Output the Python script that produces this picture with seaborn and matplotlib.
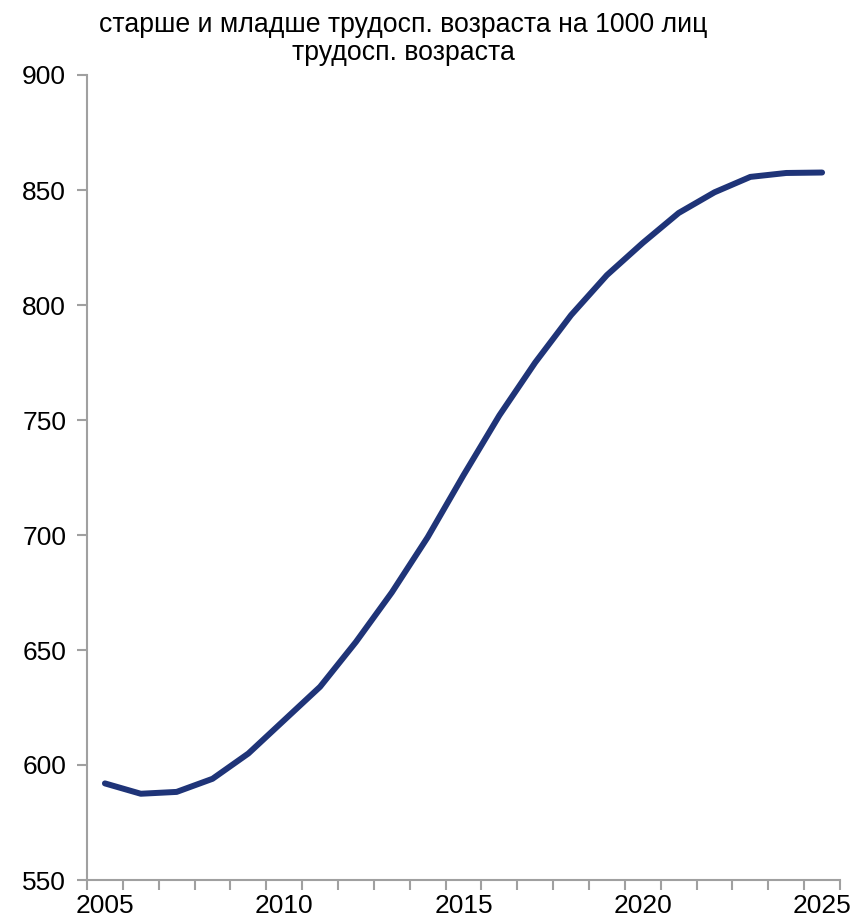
import numpy as np
import pandas as pd
import seaborn as sns
import matplotlib.pyplot as plt

years = list(range(2005, 2026))
values = [592, 587.5, 588.3, 594, 605, 619.5, 634, 653.5, 675, 699, 726,
          752, 775, 795.6, 813, 827, 840, 849, 855.7, 857.4, 857.6]
title_lines = ["старше и младше трудосп. возраста на 1000 лиц", "трудосп. возраста"]

df = pd.DataFrame({"year": years, "value": values})

sns.set_style("white")
plt.rcParams['font.family'] = ['Liberation Sans', 'DejaVu Sans']
plt.rcParams['text.color'] = 'black'
plt.rcParams['xtick.color'] = 'black'
plt.rcParams['ytick.color'] = 'black'

fig = plt.figure(figsize=(8.52, 9.24), dpi=100)
ax = fig.add_axes([87 / 852, 44 / 924, 753 / 852, 805 / 924])

sns.lineplot(data=df, x="year", y="value", ax=ax, color="#1f3478", linewidth=4.3)

ax.set_xlim(2004.5, 2025.5)
ax.set_ylim(550, 900)
ax.set_yticks(np.arange(550, 901, 50))
ax.set_xticks([2005, 2010, 2015, 2020, 2025])
ax.set_xticks(np.arange(2004.5, 2026, 1), minor=True)
ax.set_xlabel("")
ax.set_ylabel("")

for s in ["top", "right"]:
    ax.spines[s].set_visible(False)
for s in ["left", "bottom"]:
    ax.spines[s].set_color("#a0a0a0")
    ax.spines[s].set_linewidth(1.5)

ax.tick_params(axis="y", which="major", length=7, width=1.5, color="#a0a0a0",
               labelcolor="black", labelsize=19, pad=8, left=True)
ax.tick_params(axis="x", which="major", length=0, labelcolor="black",
               labelsize=19, pad=10, bottom=True)
ax.tick_params(axis="x", which="minor", length=7, width=1.5, color="#a0a0a0", bottom=True)

fig.text(403 / 852, 1 - 12 / 924, "\n".join(title_lines), ha="center", va="top",
         fontsize=19.2, linespacing=1.1, color="black")

fig.savefig("out.png", dpi=100)
